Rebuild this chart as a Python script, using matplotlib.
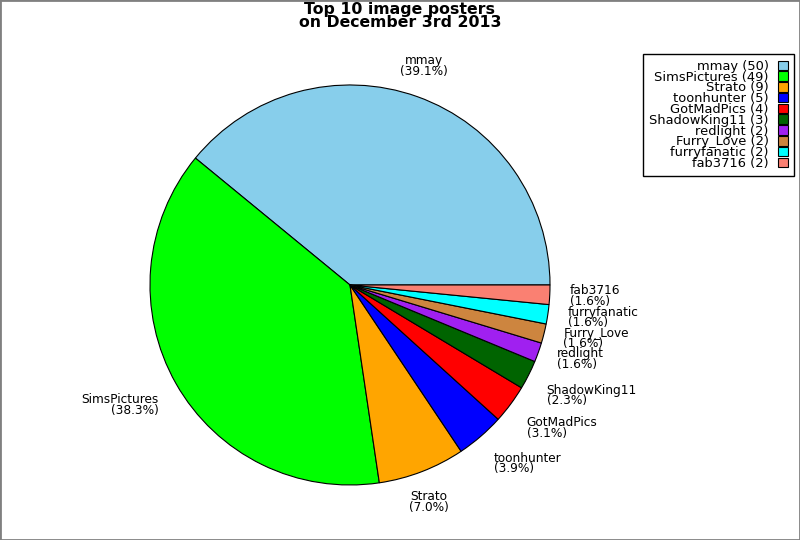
import numpy as np
import matplotlib
matplotlib.use("Agg")
import matplotlib.pyplot as plt
from matplotlib.patches import Rectangle

posters = ["mmay", "SimsPictures", "Strato", "toonhunter", "GotMadPics",
           "ShadowKing11", "redlight", "Furry_Love", "furryfanatic", "fab3716"]
counts = [50, 49, 9, 5, 4, 3, 2, 2, 2, 2]
colors = ["#87CEEB", "#00FF00", "#FFA500", "#0000FF", "#FF0000",
          "#006400", "#A020F0", "#CD853F", "#00FFFF", "#FA8072"]

total = sum(counts)
labels = [f"{n}\n({100.0 * c / total:.1f}%)" for n, c in zip(posters, counts)]

fig = plt.figure(figsize=(8, 5.4), dpi=100)
ax = fig.add_axes([0.125, 0.00926, 0.625, 0.926])

wedges, texts = ax.pie(counts, labels=labels, colors=colors, startangle=0,
                       counterclock=True, labeldistance=1.1,
                       wedgeprops=dict(edgecolor="black", linewidth=0.8),
                       textprops=dict(fontsize=8.7, linespacing=0.75))

# alignment like the original: centered near top/bottom, left/right at the sides
for w, t in zip(wedges, texts):
    ang = np.deg2rad((w.theta1 + w.theta2) / 2.0)
    c, s = np.cos(ang), np.sin(ang)
    if abs(c) < 0.5:
        t.set_ha("center")
    elif c > 0:
        t.set_ha("left")
    else:
        t.set_ha("right")
    t.set_multialignment("center" if abs(c) < 0.5 else t.get_ha())
    if s > 0.4:
        t.set_va("bottom")
    elif s < -0.4:
        t.set_va("top")
    else:
        t.set_va("center")

ax.set_xlim(-1.25, 1.25)
ax.set_ylim(-1.25, 1.25)
ax.set_aspect("equal")
ax.axis("off")

fig.suptitle("Top 10 image posters\non December 3rd 2013", fontsize=11.3,
             fontweight="bold", y=0.997, linespacing=0.88)

leg_labels = [f"{n} ({c})" for n, c in zip(posters, counts)]
leg = fig.legend(wedges, leg_labels, loc="upper right",
                 bbox_to_anchor=(0.992, 0.9), fontsize=9.4, markerfirst=False,
                 fancybox=False, framealpha=1, edgecolor="black",
                 handlelength=0.75, handleheight=0.75, handletextpad=0.7,
                 labelspacing=-0.17, borderpad=0.45, borderaxespad=0)
leg.get_frame().set_linewidth(1.0)

fig.patches.append(Rectangle((0, 0), 1, 1, transform=fig.transFigure,
                             fill=False, edgecolor="#808080", linewidth=2))

fig.savefig("out.png", dpi=100)
